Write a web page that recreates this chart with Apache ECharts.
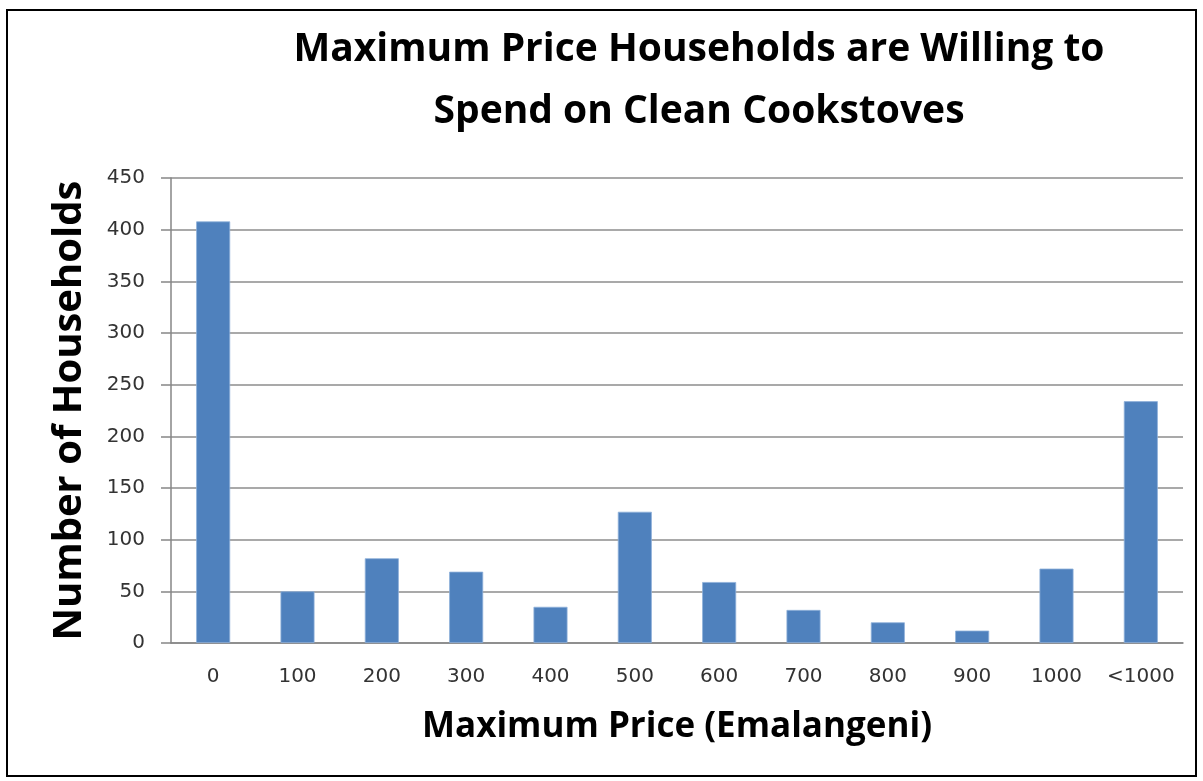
<!DOCTYPE html>
<html>
<head>
<meta charset="utf-8">
<script src="https://cdn.jsdelivr.net/npm/echarts@6/dist/echarts.min.js"></script>
<style>
  html, body { margin: 0; padding: 0; background: #ffffff; }
  #chart { width: 1203px; height: 781px; }
</style>
</head>
<body>
<div id="chart"></div>
<script>
// Price levels households would pay (Emalangeni)
const priceCategories = ['0', '100', '200', '300', '400', '500', '600', '700', '800', '900', '1000', '<1000'];
// Number of households choosing each maximum price
const householdCounts = [408, 50, 82, 69, 35, 127, 59, 32, 20, 12, 72, 234];
// Value axis range and step
const yMin = 0;
const yMax = 450;
const yStep = 50;

const chart = echarts.init(document.getElementById('chart'), null, { renderer: 'canvas' });

const labelFont = 'DejaVu Sans';
const titleFont = 'Open Sans';

chart.setOption({
  animation: false,
  backgroundColor: '#ffffff',
  title: {
    text: 'Maximum Price Households are Willing to\nSpend on Clean Cookstoves',
    left: 694,
    top: 14,
    textAlign: 'center',
    textStyle: {
      fontFamily: titleFont,
      fontWeight: 'bold',
      fontSize: 39,
      lineHeight: 62,
      color: '#000000'
    }
  },
  grid: {
    left: 171,
    right: 20,
    top: 178,
    bottom: 138,
    containLabel: false
  },
  xAxis: {
    type: 'category',
    data: priceCategories,
    name: 'Maximum Price (Emalangeni)',
    nameLocation: 'middle',
    nameGap: 67,
    nameTextStyle: {
      fontFamily: titleFont,
      fontWeight: 'bold',
      fontSize: 35,
      color: '#000000'
    },
    axisLine: { show: true, lineStyle: { color: '#868686', width: 1.5 } },
    axisTick: { show: false },
    axisLabel: {
      interval: 0,
      fontFamily: labelFont,
      fontSize: 20,
      color: '#333333',
      margin: 24
    }
  },
  yAxis: {
    type: 'value',
    min: yMin,
    max: yMax,
    interval: yStep,
    name: 'Number of Households',
    nameLocation: 'middle',
    nameGap: 81,
    nameRotate: 90,
    nameTextStyle: {
      fontFamily: titleFont,
      fontWeight: 'bold',
      fontSize: 40,
      color: '#000000'
    },
    axisLine: { show: true, lineStyle: { color: '#868686', width: 1.5 } },
    axisTick: { show: true, inside: false, length: 10, lineStyle: { color: '#868686', width: 1.5 } },
    splitLine: { show: true, lineStyle: { color: '#8c8c8c', width: 1.5 } },
    axisLabel: {
      fontFamily: labelFont,
      fontSize: 20,
      color: '#333333',
      margin: 26
    }
  },
  series: [{
    type: 'bar',
    data: householdCounts,
    barWidth: 34,
    itemStyle: {
      color: '#4F81BD',
      borderColor: '#8EB0D9',
      borderWidth: 0.8
    }
  }],
  graphic: [{
    type: 'rect',
    shape: { x: 7, y: 10, width: 1189, height: 766 },
    style: { fill: 'none', stroke: '#000000', lineWidth: 2 },
    silent: true,
    z: 100
  }]
});
</script>
</body>
</html>
